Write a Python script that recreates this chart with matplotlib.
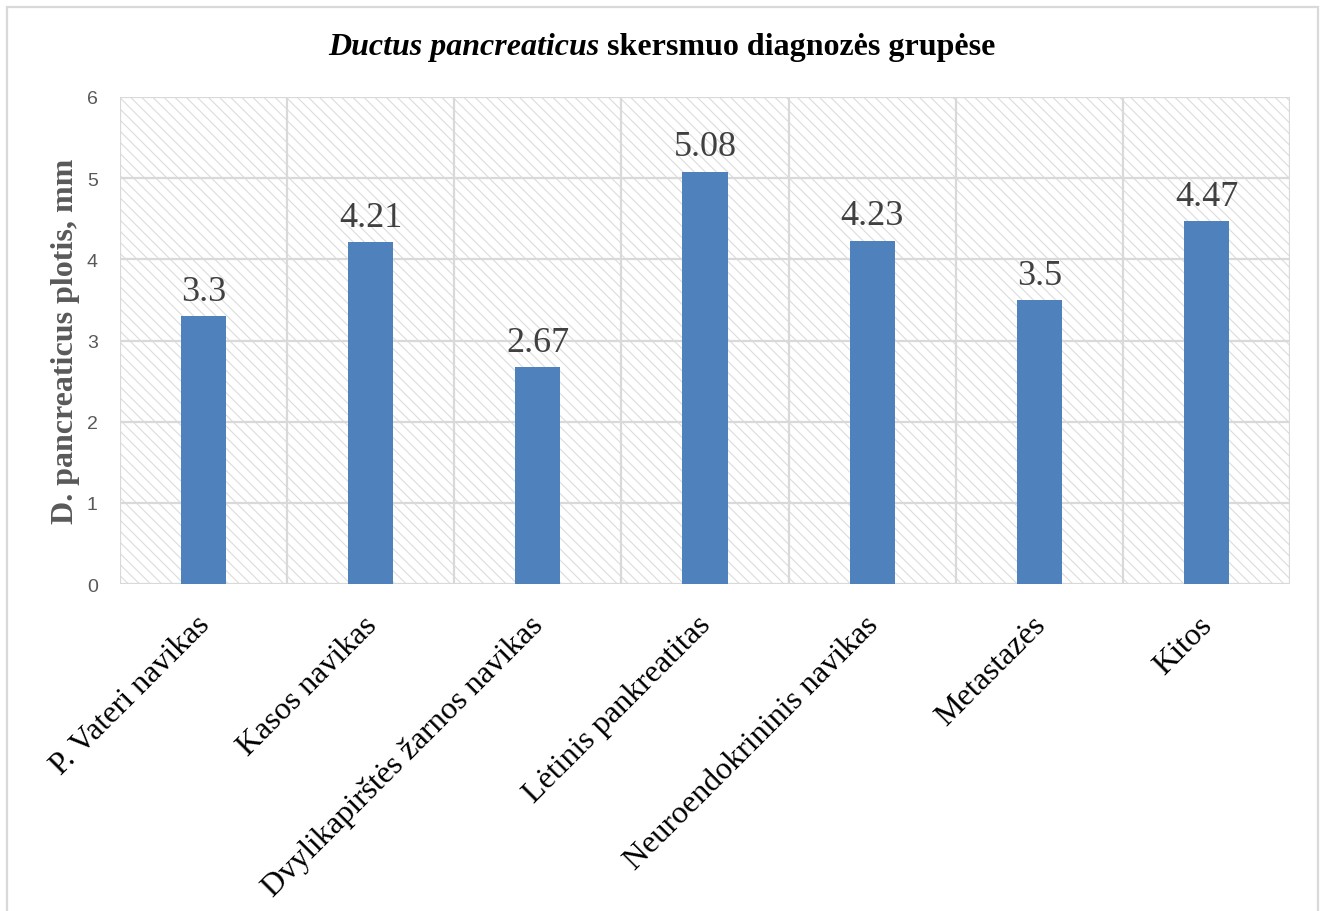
import matplotlib

matplotlib.use("Agg")

import matplotlib.pyplot as plt
import matplotlib.transforms as mtransforms
from matplotlib.patches import Rectangle

categories = [
    "P. Vateri navikas",
    "Kasos navikas",
    "Dvylikapirštės žarnos navikas",
    "Lėtinis pankreatitas",
    "Neuroendokrininis navikas",
    "Metastazės",
    "Kitos",
]
values = [3.3, 4.21, 2.67, 5.08, 4.23, 3.5, 4.47]
value_labels = ["3.3", "4.21", "2.67", "5.08", "4.23", "3.5", "4.47"]
y_ticks = [0, 1, 2, 3, 4, 5, 6]

BAR = "#4F81BD"
GRID = "#D9D9D9"
HATCH = "#DCDCDC"
SERIF = "Liberation Serif"
SANS = "Liberation Sans"

plt.rcParams["hatch.linewidth"] = 0.8

W, H = 1325, 912
fig = plt.figure(figsize=(W / 100, H / 100), dpi=100)
ax = fig.add_axes([120 / W, 1 - 585 / H, (1290 - 120) / W, (585 - 98) / H])

# striped plot area background
ax.add_patch(Rectangle((0, 0), 1, 1, transform=ax.transAxes, facecolor="white",
                       edgecolor=HATCH, linewidth=0, hatch="\\\\\\", zorder=0))

n = len(categories)
x = list(range(n))
ax.bar(x, values, width=0.27, color=BAR, zorder=3)

for xi, v, lab in zip(x, values, value_labels):
    ax.annotate(lab, (xi, v), xytext=(0, 6), textcoords="offset points",
                ha="center", va="bottom", fontsize=26, family=SERIF,
                color="#404040", zorder=4)

ax.set_xlim(-0.5, n - 0.5)
ax.set_ylim(0, 6)
ax.set_yticks(y_ticks)
ax.set_yticklabels([str(t) for t in y_ticks], family=SANS, fontsize=14, color="#595959")
ax.tick_params(axis="y", length=0, pad=16)

# gridlines: horizontal at ticks, vertical between categories
for t in y_ticks:
    ax.axhline(t, color=GRID, lw=1.6, zorder=1)
for b in range(n + 1):
    ax.axvline(b - 0.5, color=GRID, lw=1.6, zorder=1)
for s in ax.spines.values():
    s.set_visible(False)

ax.set_xticks(x)
ax.set_xticklabels(categories, rotation=45, ha="right", va="baseline",
                   rotation_mode="anchor", family=SERIF, fontsize=23, color="black")
ax.tick_params(axis="x", length=0, pad=27)
shift = mtransforms.ScaledTranslation(5 / 72, -3 / 72, fig.dpi_scale_trans)
for lbl in ax.get_xticklabels():
    lbl.set_transform(lbl.get_transform() + shift)

ax.set_ylabel("D. pancreaticus plotis, mm", family=SERIF, fontweight="bold",
              fontsize=23, color="#595959", labelpad=5)

# title: italic species name followed by regular bold text
t1 = fig.text(0, 1 - 55 / H, "Ductus pancreaticus", family=SERIF, fontsize=23,
              fontweight="bold", fontstyle="italic", va="baseline")
t2 = fig.text(0, 1 - 55 / H, " skersmuo diagnozės grupėse", family=SERIF, fontsize=23,
              fontweight="bold", va="baseline")
fig.canvas.draw()
r = fig.canvas.get_renderer()
w1 = t1.get_window_extent(r).width
w2 = t2.get_window_extent(r).width
x0 = (662 - (w1 + w2) / 2) / W
t1.set_x(x0)
t2.set_x(x0 + w1 / W)

# outer chart frame
fig.add_artist(Rectangle((7 / W, -0.05), (1318 - 7) / W, 1.05 - 8 / H,
                         transform=fig.transFigure, fill=False,
                         edgecolor=GRID, lw=1.6))

fig.savefig("out.png", dpi=100)
